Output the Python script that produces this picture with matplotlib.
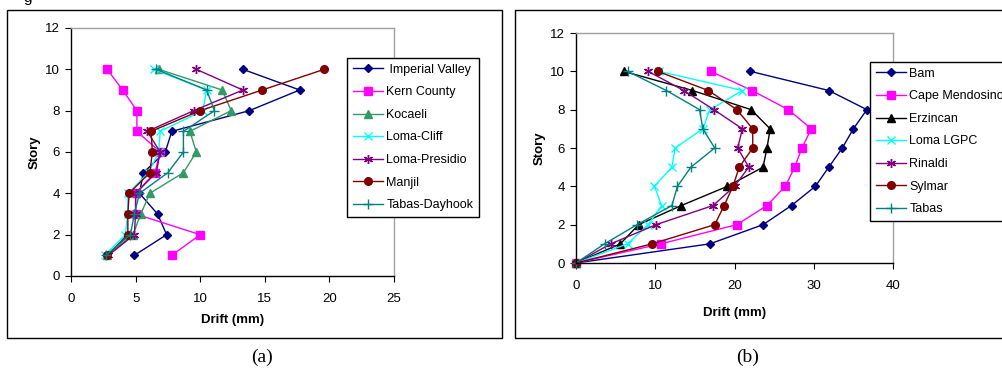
import matplotlib
matplotlib.use('Agg')
import matplotlib.pyplot as plt
from matplotlib.patches import Rectangle

plt.rcParams.update({
    'font.family': ['Liberation Sans', 'DejaVu Sans'],
    'font.size': 9,
    'axes.linewidth': 1.0,
    'xtick.direction': 'out',
    'ytick.direction': 'out',
})

# ---- data (a) ----
stories_a = [10, 9, 8, 7, 6, 5, 4, 3, 2, 1]
names_a = ['Imperial Valley', 'Kern County', 'Kocaeli', 'Loma-Cliff',
           'Loma-Presidio', 'Manjil', 'Tabas-Dayhook']
imperial = [13.3, 17.7, 13.8, 7.8, 7.3, 5.6, 5.3, 6.7, 7.4, 4.9]
kern = [2.8, 4.0, 5.1, 5.1, 6.9, 6.5, 5.0, 5.0, 10.0, 7.8]
kocaeli = [6.8, 11.7, 12.4, 9.2, 9.7, 8.7, 6.1, 5.4, 4.8, 2.8]
loma_cliff = [6.4, 10.5, 10.2, 6.9, 6.8, 6.0, 4.4, 4.4, 4.2, 2.6]
loma_presidio = [9.7, 13.3, 9.5, 5.9, 6.9, 6.6, 5.0, 5.0, 4.9, 2.9]
manjil = [19.6, 14.8, 10.0, 6.2, 6.3, 6.1, 4.5, 4.4, 4.4, 2.8]
tabas_dayhook = [6.6, 10.5, 11.1, 8.7, 8.7, 7.5, 5.3, 4.9, 4.6, 2.7]
series_a = [imperial, kern, kocaeli, loma_cliff, loma_presidio, manjil, tabas_dayhook]

# ---- data (b) ----
stories_b = [10, 9, 8, 7, 6, 5, 4, 3, 2, 1, 0]
names_b = ['Bam', 'Cape Mendosino', 'Erzincan', 'Loma LGPC', 'Rinaldi',
           'Sylmar', 'Tabas']
bam = [22.0, 31.9, 36.7, 35.0, 33.6, 31.9, 30.2, 27.2, 23.6, 16.9, 0]
cape = [17.0, 22.2, 26.8, 29.7, 28.5, 27.6, 26.4, 24.1, 20.3, 10.7, 0]
erzincan = [6.0, 14.7, 22.1, 24.5, 24.1, 23.6, 19.1, 13.3, 7.9, 5.6, 0]
loma_lgpc = [10.5, 21.0, 16.9, 16.0, 12.5, 12.1, 9.9, 10.8, 9.1, 6.5, 0]
rinaldi = [9.1, 13.6, 17.4, 21.0, 20.4, 21.8, 20.0, 17.3, 10.1, 4.4, 0]
sylmar = [10.3, 16.7, 20.3, 22.3, 22.3, 20.6, 19.8, 18.7, 17.5, 9.6, 0]
tabas = [6.5, 11.4, 15.6, 16.0, 17.5, 14.5, 12.8, 12.1, 7.7, 3.6, 0]
series_b = [bam, cape, erzincan, loma_lgpc, rinaldi, sylmar, tabas]

ASTER = (6, 2, 0)
styles_a = [('#000080', 'D', 4.5), ('#FF00FF', 's', 5.5), ('#339966', '^', 6),
            ('#00FFFF', 'x', 5.5), ('#800080', ASTER, 6.5), ('#800000', 'o', 5.5),
            ('#008080', '+', 6.5)]
styles_b = [('#000080', 'D', 4.5), ('#FF00FF', 's', 5.5), ('#000000', '^', 6),
            ('#00FFFF', 'x', 5.5), ('#800080', ASTER, 6.5), ('#800000', 'o', 5.5),
            ('#008080', '+', 6.5)]

W, H = 1003, 376
fig = plt.figure(figsize=(W / 100, H / 100), dpi=100)


def fx(px):
    return px / W


def fy(py):
    return 1 - py / H


# panel frames
fig.patches.append(Rectangle((fx(7), fy(338)), fx(495), 328 / H, transform=fig.transFigure,
                             fill=False, edgecolor='black', lw=1.0))
fig.patches.append(Rectangle((fx(515), fy(338)), fx(495), 328 / H, transform=fig.transFigure,
                             fill=False, edgecolor='black', lw=1.0))

ax1 = fig.add_axes([fx(71), fy(276), fx(394 - 71), (276 - 28) / H])
ax2 = fig.add_axes([fx(576), fy(263), fx(893 - 576), (263 - 33) / H])


def style_axes(ax, xmax, xstep, ylpad, xlpad):
    ax.set_xlim(0, xmax)
    ax.set_ylim(0, 12)
    ax.set_xticks(range(0, xmax + 1, xstep))
    ax.set_yticks(range(0, 13, 2))
    for s in ['top', 'right']:
        ax.spines[s].set_color('#a0a0a0')
    ax.tick_params(axis='both', length=4, width=0.8, labelsize=9.5, pad=4)
    ax.tick_params(axis='x', pad=8)
    ax.set_xlabel('Drift (mm)', fontweight='bold', fontsize=9.5, labelpad=xlpad)
    ax.set_ylabel('Story', fontweight='bold', fontsize=9.5, labelpad=ylpad)


for vals, name, (c, m, ms) in zip(series_a, names_a, styles_a):
    ax1.plot(vals, stories_a, color=c, marker=m, ms=ms, lw=1.0, mew=1.0,
             label=(' ' + name) if name == 'Imperial Valley' else name, clip_on=False)
for vals, name, (c, m, ms) in zip(series_b, names_b, styles_b):
    ax2.plot(vals, stories_b, color=c, marker=m, ms=ms, lw=1.0, mew=1.0,
             label=name, clip_on=False)

style_axes(ax1, 25, 5, 3, 7)
style_axes(ax2, 40, 10, 3, 11)

leg_kw = dict(fontsize=9, frameon=True, fancybox=False, framealpha=1,
              edgecolor='black', loc='upper left', handlelength=2.4,
              handletextpad=0.3, labelspacing=0.85, borderpad=0.45,
              borderaxespad=0)
l1 = ax1.legend(bbox_to_anchor=(fx(347), fy(58)), bbox_transform=fig.transFigure, **leg_kw)
l2 = ax2.legend(bbox_to_anchor=(fx(870), fy(62)), bbox_transform=fig.transFigure, **leg_kw)
for lg in (l1, l2):
    lg.get_frame().set_linewidth(1.0)

fig.text(fx(262), fy(357), '(a)', family='Liberation Serif', fontsize=14,
         ha='center', va='center')
fig.text(fx(748), fy(357), '(b)', family='Liberation Serif', fontsize=14,
         ha='center', va='center')
fig.text(fx(28), fy(-2), 'g', fontsize=11, ha='center', va='center')

fig.savefig('out.png', dpi=100)
